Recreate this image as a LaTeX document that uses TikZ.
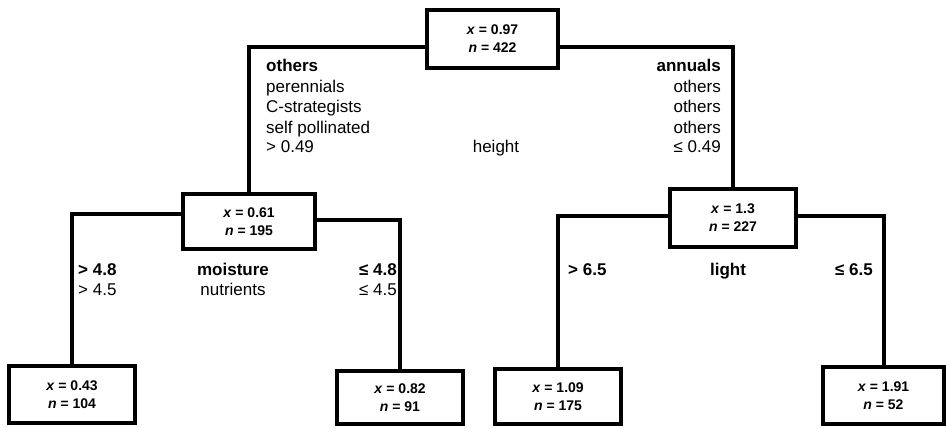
\documentclass[tikz,border=0pt]{standalone}
\usepackage{fontspec}
\setmainfont{Liberation Sans}
\usetikzlibrary{positioning}

\tikzset{
  treebox/.style={draw, line width=4pt, minimum width=126pt, minimum height=56pt,
    inner sep=0pt, align=center, font=\fontsize{14}{18}\selectfont\bfseries},
  branch/.style={line width=4pt},
  lbl/.style={inner sep=0pt, font=\fontsize{17}{20}\selectfont},
  blbl/.style={inner sep=0pt, font=\fontsize{17}{20}\selectfont\bfseries},
}

\begin{document}
\begin{tikzpicture}[x=1pt, y=-1pt, line join=miter]
    \useasboundingbox (0,0) rectangle (946,428);

    % nodes of the tree
    \node[treebox, minimum width=131pt, minimum height=58pt] (root) at (492.5,39)
        {\textit{x} = 0.97\\\textit{n} = 422};
    \node[treebox, minimum width=132pt, minimum height=55pt] (moist) at (249,221.5)
        {\textit{x} = 0.61\\\textit{n} = 195};
    \node[treebox, minimum height=58pt] (light) at (733,218)
        {\textit{x} = 1.3\\\textit{n} = 227};
    \node[treebox, minimum height=57pt] (leafA) at (72,394.5)
        {\textit{x} = 0.43\\\textit{n} = 104};
    \node[treebox, minimum height=53pt] (leafB) at (400,397.5)
        {\textit{x} = 0.82\\\textit{n} = 91};
    \node[treebox, minimum height=55pt] (leafC) at (558,396.5)
        {\textit{x} = 1.09\\\textit{n} = 175};
    \node[treebox, minimum width=121pt, minimum height=57pt] (leafD) at (883.5,395.5)
        {\textit{x} = 1.91\\\textit{n} = 52};

    % branches
    \draw[branch] ([yshift=-8pt]root.west) -| (moist.north);
    \draw[branch] ([yshift=-8pt]root.east) -| (light.north);
    \draw[branch] ([yshift=8pt]moist.west) -| (leafA.north);
    \draw[branch] ([yshift=2pt]moist.east) -| (leafB.north);
    \draw[branch] ([yshift=2pt]light.west) -| (leafC.north);
    \draw[branch] ([yshift=2pt]light.east) -| (leafD.north);

    % first split: height
    \node[blbl, anchor=base west] (oth) at (266,72) {others};
    \node[lbl, anchor=base west] (per) at (266,92.5) {perennials};
    \node[lbl, anchor=base west] (cst) at (266,113) {C-strategists};
    \node[lbl, anchor=base west] (sel) at (266,133) {self pollinated};
    \node[lbl, anchor=base west] (hgt) at (266,153) {> 0.49};
    \node[lbl, anchor=base] (height) at (496,153) {height};
    \node[blbl, anchor=base east] (ann) at (721,72) {annuals};
    \node[lbl, anchor=base east] (ot1) at (721,92.5) {others};
    \node[lbl, anchor=base east] (ot2) at (721,113) {others};
    \node[lbl, anchor=base east] (ot3) at (721,133) {others};
    \node[lbl, anchor=base east] (hle) at (721,153) {≤ 0.49};

    % second split, left: moisture
    \node[blbl, anchor=base west] (mgt) at (78,275) {> 4.8};
    \node[lbl, anchor=base west] (ngt) at (78,295) {> 4.5};
    \node[blbl, anchor=base] (moisture) at (233,275) {moisture};
    \node[lbl, anchor=base] (nutr) at (233,295) {nutrients};
    \node[blbl, anchor=base east] (mle) at (397,275) {≤ 4.8};
    \node[lbl, anchor=base east] (nle) at (397,295) {≤ 4.5};

    % second split, right: light
    \node[blbl, anchor=base west] (lgt) at (568,275) {> 6.5};
    \node[blbl, anchor=base] (lgtname) at (728,275) {light};
    \node[blbl, anchor=base east] (lle) at (873,275) {≤ 6.5};
\end{tikzpicture}
\end{document}
